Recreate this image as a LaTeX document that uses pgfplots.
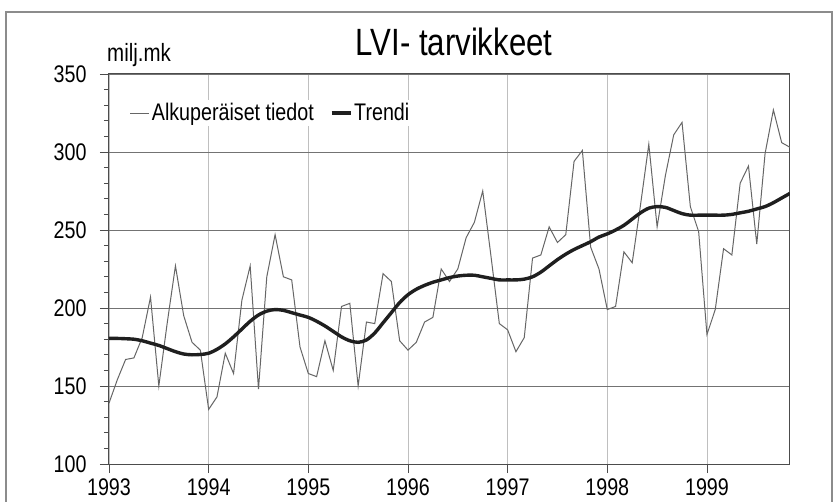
\documentclass[border=0pt]{standalone}
\usepackage{fontspec}
\setmainfont{Liberation Sans}[FakeStretch=0.82]
\usepackage{pgfplots}
\pgfplotsset{compat=1.18}
\usepackage{pgfplotstable}

\pgfplotstableread{
m raw trend
0 139 180.5
1 154 180.5
2 167 180.3
3 168 180
4 181 179
5 207 177.5
6 150 176
7 190 174
8 227 172
9 195 170.5
10 178 170
11 173 170.2
12 135 171
13 143 173.5
14 171 177
15 158 181.5
16 205 186.5
17 227 191.5
18 148 195.5
19 220 198
20 247 199
21 220 198.5
22 218 197
23 175 195.5
24 158 194
25 156 191.5
26 179 188.5
27 160 185
28 201 181.5
29 203 179
30 150 178
31 191 179.5
32 190 184
33 222 190.5
34 217 197
35 179 203.5
36 173 208.5
37 178 212
38 191 214.5
39 194 216.5
40 225 218
41 217 219.5
42 225 220.5
43 245 221
44 255 221
45 275 220
46 233 219
47 190 218
48 186 218
49 172 218
50 181 218.5
51 232 220
52 234 223
53 252 227
54 242 231
55 247 234.5
56 294 237.5
57 301 240
58 239 242.5
59 225 245.5
60 199 247.5
61 201 250
62 236 253
63 229 257
64 266 261
65 305 264
66 252 265
67 285 264.5
68 311 262.5
69 319 260.5
70 265 259.5
71 249 259.5
72 183 259.5
73 199 259.5
74 238 259.5
75 234 260
76 280 261
77 291 262
78 241 263.5
79 299 265
80 327 267.5
81 306 270.5
82 303 273.5
}\data

\begin{document}
\begin{tikzpicture}
\useasboundingbox (-109pt,-37pt) rectangle (726pt,464pt);
\clip (-109pt,-37pt) rectangle (726pt,464pt);
\fill[white] (-109pt,-37pt) rectangle (726pt,464pt);
\draw[line width=2pt, black!45] (-103pt,-60pt) rectangle (723pt,452pt);
\begin{axis}[
  scale only axis, width=681pt, height=390pt,
  xmin=0, xmax=82, ymin=100, ymax=350,
  xtick={0,12,24,36,48,60,72},
  xticklabels={1993,1994,1995,1996,1997,1998,1999},
  ytick={100,150,200,250,300,350},
  minor y tick num=4,
  xtick pos=bottom, ytick pos=left,
  tick align=outside, major tick length=9pt, minor tick length=5pt,
  tick style={black!70, line width=0.8pt},
  xmajorgrids, ymajorgrids,
  x grid style={black!25, line width=0.6pt},
  y grid style={black!55, line width=0.8pt},
  axis line style={black!70, line width=1pt},
  ticklabel style={font=\fontsize{24}{28}\selectfont},
  xticklabel style={yshift=-2pt},
  yticklabel style={xshift=-10pt},
  /pgf/number format/assume math mode=true,
  legend style={at={(0.026,0.9)}, anchor=west, draw=none, fill=white,
    font=\fontsize{24}{28}\selectfont, legend columns=2,
    /tikz/every even column/.append style={column sep=14pt}},
  legend cell align=left,
  legend image code/.code={\draw[#1] (0pt,0pt) -- (19pt,0pt);},
]
\addplot[color=black!60, line width=1pt] table[x=m,y=raw]{\data};
\addlegendentry{Alkuperäiset tiedot}
\addplot[color=black!88, line width=3.4pt, smooth] table[x=m,y=trend]{\data};
\addlegendentry{Trendi}
\end{axis}
\node[font=\fontsize{38}{46}\selectfont, anchor=base] at (345pt,408pt) {LVI- tarvikkeet};
\node[font=\fontsize{25}{30}\selectfont, anchor=base west, inner sep=0pt] at (-2pt,402pt) {milj.mk};
\end{tikzpicture}
\end{document}
